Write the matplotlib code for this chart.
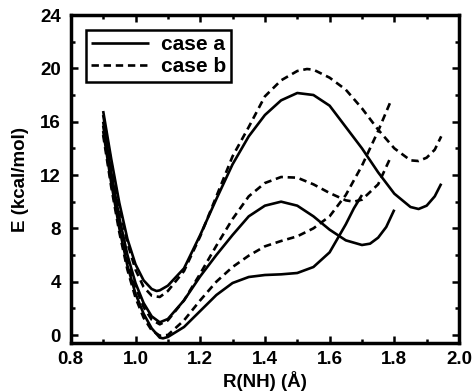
import matplotlib
matplotlib.use("Agg")
import matplotlib.pyplot as plt
from matplotlib.ticker import MultipleLocator, FormatStrFormatter

# case a (solid) curves
x_a1 = [0.90, 0.925, 0.95, 0.975, 1.00, 1.025, 1.05, 1.065, 1.075, 1.10, 1.15, 1.20, 1.25,
        1.30, 1.35, 1.40, 1.45, 1.50, 1.55, 1.60, 1.65, 1.70, 1.75, 1.80, 1.85, 1.875,
        1.90, 1.925, 1.945]
e_a1 = [16.8, 13.2, 9.9, 7.2, 5.3, 4.1, 3.45, 3.3, 3.35, 3.7, 5.0, 7.5, 10.2,
        12.8, 14.9, 16.5, 17.6, 18.15, 18.0, 17.2, 15.6, 14.0, 12.2, 10.6, 9.6, 9.45,
        9.7, 10.4, 11.35]

x_a2 = [0.90, 0.925, 0.95, 0.975, 1.00, 1.025, 1.05, 1.075, 1.10, 1.15, 1.20, 1.25, 1.30,
        1.35, 1.40, 1.45, 1.50, 1.55, 1.60, 1.65, 1.70, 1.725, 1.75, 1.775, 1.80]
e_a2 = [16.0, 12.2, 8.8, 6.0, 3.9, 2.4, 1.4, 0.95, 1.2, 2.6, 4.4, 6.0, 7.5,
        8.9, 9.7, 10.0, 9.7, 8.9, 7.9, 7.1, 6.75, 6.85, 7.3, 8.1, 9.4]

x_a3 = [0.90, 0.925, 0.95, 0.975, 1.00, 1.025, 1.05, 1.075, 1.085, 1.10, 1.15, 1.20, 1.25,
        1.30, 1.35, 1.40, 1.45, 1.50, 1.55, 1.60, 1.65, 1.675, 1.70]
e_a3 = [15.3, 11.4, 8.0, 5.2, 3.1, 1.6, 0.5, -0.2, -0.25, -0.15, 0.6, 1.8, 3.0,
        3.9, 4.35, 4.5, 4.55, 4.65, 5.1, 6.2, 8.3, 9.5, 10.5]

# case b (dashed) curves
x_b1 = [0.90, 0.925, 0.95, 0.975, 1.00, 1.025, 1.05, 1.075, 1.10, 1.15, 1.20, 1.25, 1.30,
        1.35, 1.40, 1.45, 1.50, 1.53, 1.55, 1.60, 1.65, 1.70, 1.75, 1.80, 1.85, 1.875,
        1.90, 1.925, 1.945]
e_b1 = [16.5, 12.9, 9.6, 6.9, 4.9, 3.6, 2.95, 2.85, 3.3, 4.8, 7.4, 10.4, 13.4,
        15.6, 17.9, 19.1, 19.8, 19.95, 19.9, 19.3, 18.4, 17.0, 15.4, 14.0, 13.1, 13.05,
        13.3, 13.9, 14.9]

x_b2 = [0.90, 0.925, 0.95, 0.975, 1.00, 1.025, 1.05, 1.075, 1.10, 1.15, 1.20, 1.25, 1.30,
        1.35, 1.40, 1.45, 1.50, 1.55, 1.60, 1.65, 1.675, 1.70, 1.75, 1.79]
e_b2 = [15.7, 11.9, 8.5, 5.7, 3.6, 2.1, 1.15, 0.8, 1.1, 2.6, 4.6, 6.7, 8.7,
        10.4, 11.4, 11.85, 11.8, 11.3, 10.65, 10.1, 10.0, 10.15, 11.3, 13.4]

x_b3 = [0.90, 0.925, 0.95, 0.975, 1.00, 1.025, 1.05, 1.075, 1.10, 1.15, 1.20, 1.25, 1.30,
        1.35, 1.40, 1.45, 1.50, 1.55, 1.60, 1.65, 1.70, 1.75, 1.79]
e_b3 = [15.0, 11.1, 7.7, 4.9, 2.8, 1.3, 0.35, -0.05, 0.0, 1.1, 2.6, 4.0, 5.1,
        5.95, 6.65, 7.05, 7.4, 8.0, 8.9, 10.5, 12.7, 15.3, 17.6]

solid = [(x_a1, e_a1), (x_a2, e_a2), (x_a3, e_a3)]
dashed = [(x_b1, e_b1), (x_b2, e_b2), (x_b3, e_b3)]
labels = ["case a", "case b"]

plt.rcParams['font.family'] = ['Liberation Sans', 'DejaVu Sans']
plt.rcParams['font.weight'] = 'bold'

fig = plt.figure(figsize=(4.72, 3.92), dpi=100)
ax = fig.add_axes([0.150, 0.125, 0.8225, 0.8367])

lw = 1.9
for i, (x, e) in enumerate(solid):
    ax.plot(x, e, color='black', lw=lw, solid_capstyle='butt',
            label=labels[0] if i == 0 else None)
for i, (x, e) in enumerate(dashed):
    ax.plot(x, e, color='black', lw=lw, dashes=(2.8, 1.8),
            label=labels[1] if i == 0 else None)

ax.set_xlim(0.8, 2.0)
ax.set_ylim(-0.6, 24)
ax.xaxis.set_major_locator(MultipleLocator(0.2))
ax.xaxis.set_minor_locator(MultipleLocator(0.1))
ax.yaxis.set_major_locator(MultipleLocator(4))
ax.yaxis.set_minor_locator(MultipleLocator(2))
ax.xaxis.set_major_formatter(FormatStrFormatter('%.1f'))
ax.tick_params(which='both', direction='in', top=True, right=True,
               width=1.8, labelsize=13.5)
ax.tick_params(axis='x', pad=6)
ax.tick_params(axis='y', pad=7)
ax.tick_params(which='major', length=5)
ax.tick_params(which='minor', length=3)
for s in ax.spines.values():
    s.set_linewidth(2.5)

ax.set_xlabel('R(NH) (Å)', fontsize=13.5, fontweight='bold', labelpad=2)
ax.set_ylabel('E (kcal/mol)', fontsize=13.5, fontweight='bold', labelpad=8)

leg = ax.legend(loc='upper left', bbox_to_anchor=(0.039, 0.954), fontsize=15,
                frameon=True, fancybox=False, handlelength=2.8, handletextpad=0.55,
                borderpad=0.25, labelspacing=0.15, borderaxespad=0)
leg.get_frame().set_edgecolor('black')
leg.get_frame().set_linewidth(1.8)
leg.get_frame().set_alpha(1)
for t in leg.get_texts():
    t.set_fontweight('bold')

fig.savefig('out.png', dpi=100)
